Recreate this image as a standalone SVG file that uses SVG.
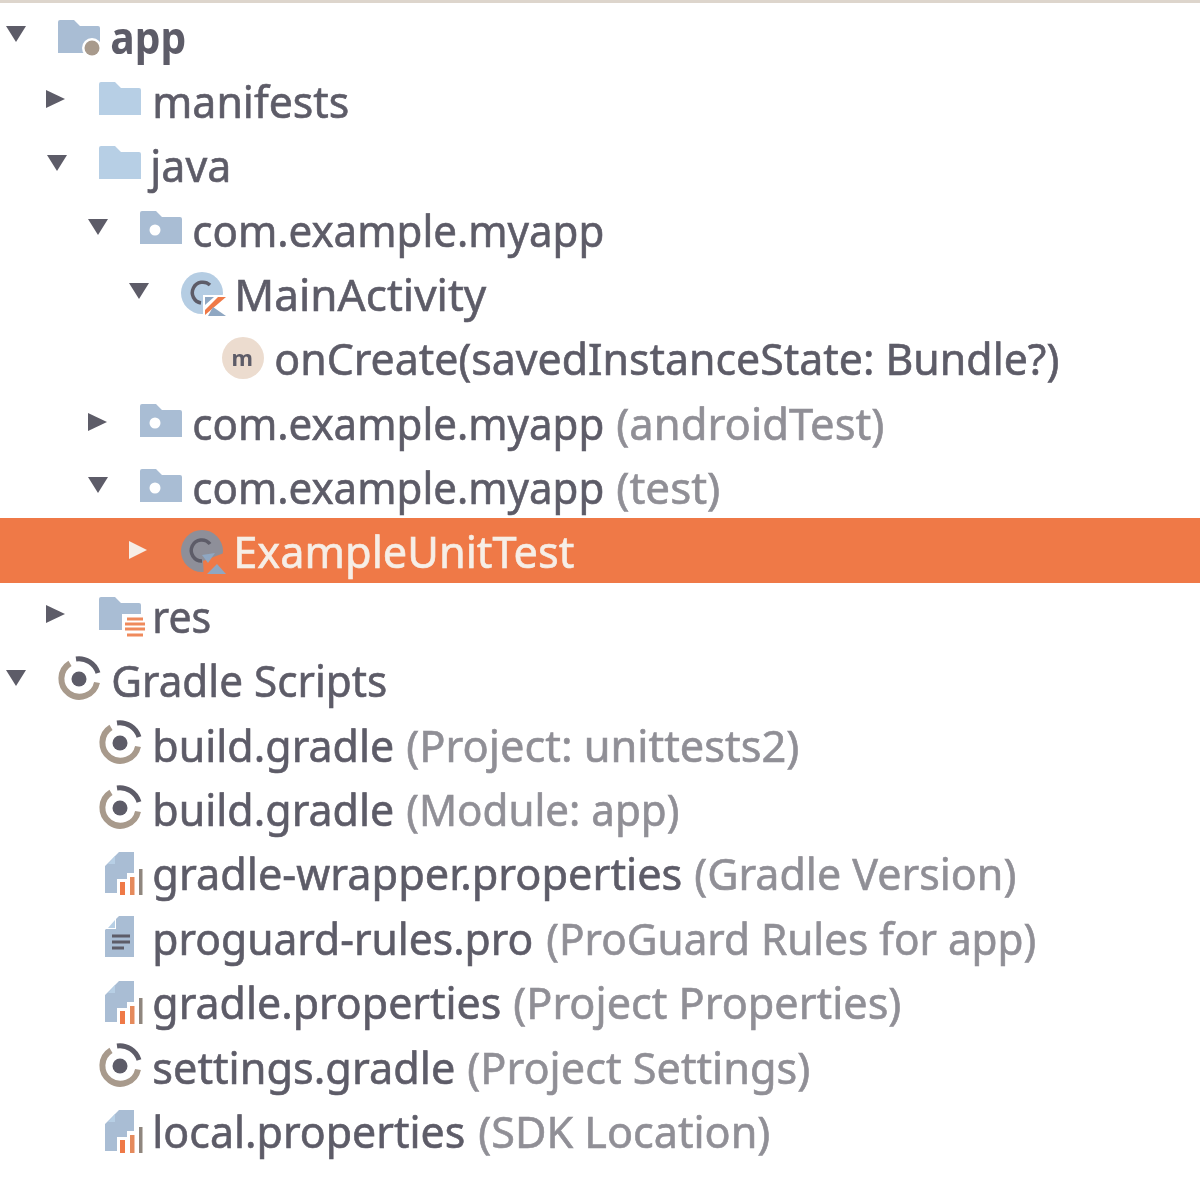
<svg xmlns="http://www.w3.org/2000/svg" xmlns:xlink="http://www.w3.org/1999/xlink" width="1200" height="1183" viewBox="0 0 1200 1183">
<style>
text{font-family:"Noto Sans","Open Sans","DejaVu Sans",sans-serif;font-size:44px;fill:#5d5b67;stroke:#5d5b67;stroke-width:.6px;transform:translate(-.7px,1px)}
.s{fill:#908f96;stroke:#908f96}
.w{fill:#f6eee6;stroke:#f6eee6}
.b{font-weight:700;stroke-width:0}
</style>
<defs>
<filter id="soft" x="0" y="0" width="100%" height="100%"><feGaussianBlur stdDeviation="0.5"/></filter>
<path id="down" d="M0 0H20L10 16Z" fill="#5d5b67"/>
<path id="right" d="M0 0L19 9L0 18Z" fill="#5d5b67"/>
<path id="folder" d="M0 2Q0 0 2 0H16L22 6H40Q42 6 42 8V33H0Z"/>
<g id="gradle" fill="none" stroke-width="6">
<path d="M-9 -15.600A18 18 0 1 0 18 3.500" stroke="#a89a8c"/>
<path d="M-3 -20A20 20 0 0 1 19 -6" stroke="#5d5b67" stroke-width="5"/>
<circle r="7.500" fill="#5d5b67" stroke="none"/>
</g>
<g id="doc">
<path d="M14 0H29V41H0V14Z" fill="#a9bdd4"/>
<path d="M11 1V13H0Z" fill="#fff"/>
<path d="M10 4V12H3Z" fill="#b7cfe5"/>
</g>
<g id="props">
<path d="M14 0H29V21H22V27H12V41H0V14Z" fill="#a9bdd4"/>
<path d="M10 4V12H3Z" fill="#b7cfe5"/>
<rect x="15" y="30" width="5" height="13" fill="#ef7947"/>
<rect x="25" y="25" width="4.500" height="18" fill="#e58a5c"/>
<rect x="34" y="17" width="3.500" height="26" fill="#8f867e"/>
</g>
</defs>
<rect width="1200" height="1183" fill="#fff"/>
<g filter="url(#soft)">
<rect width="1200" height="3" fill="#ddd5cc"/>
<rect id="selection" y="518" width="1200" height="65" fill="#ef7947"/>

<g id="app"><use xlink:href="#down" x="6" y="26"/><use xlink:href="#folder" x="58" y="20" fill="#a9bdd4"/><circle cx="92" cy="48" r="10" fill="#fff"/><circle cx="92" cy="48" r="7.500" fill="#a89a8c"/><text x="111" y="53" textLength="76" lengthAdjust="spacingAndGlyphs" class="b">app</text></g>

<g id="manifests"><use xlink:href="#right" x="46" y="90"/><use xlink:href="#folder" x="99" y="82" fill="#b7cfe5"/><text x="153" y="117" textLength="197" lengthAdjust="spacingAndGlyphs">manifests</text></g>

<g id="java"><use xlink:href="#down" x="47" y="155"/><use xlink:href="#folder" x="99" y="146" fill="#b7cfe5"/><text x="151" y="181" textLength="81" lengthAdjust="spacingAndGlyphs">java</text></g>

<g id="pkg-main"><use xlink:href="#down" x="88" y="219"/><use xlink:href="#folder" x="140" y="211" fill="#a9bdd4"/><circle cx="155" cy="230" r="5.500" fill="#fff"/><text x="193" y="246" textLength="412" lengthAdjust="spacingAndGlyphs">com.example.myapp</text></g>

<g id="main-activity"><use xlink:href="#down" x="129" y="283"/><circle cx="202" cy="293" r="21" fill="#b5cde3"/><path d="M210 285A10.500 10.500 0 1 0 201 303" fill="none" stroke="#5d5b67" stroke-width="3.500"/><rect x="203" y="295" width="25" height="23" fill="#fff"/><path d="M205 297H214L205 305Z" fill="#8fa7c2"/><path d="M205 310L218 297H226L205 315Z" fill="#ef7947"/><path d="M213 307L226 316H208Z" fill="#8fa7c2"/><text x="235" y="310" textLength="252" lengthAdjust="spacingAndGlyphs">MainActivity</text></g>

<g id="on-create"><circle cx="243" cy="358" r="21" fill="#ecdccf"/><text x="243" y="365" text-anchor="middle" style="font-size:22px" class="b">m</text><text x="275" y="374" textLength="785" lengthAdjust="spacingAndGlyphs">onCreate(savedInstanceState: Bundle?)</text></g>

<g id="pkg-android-test"><use xlink:href="#right" x="88" y="413"/><use xlink:href="#folder" x="140" y="404" fill="#a9bdd4"/><circle cx="155" cy="423" r="5.500" fill="#fff"/><text x="193" y="439" textLength="412" lengthAdjust="spacingAndGlyphs">com.example.myapp</text><text x="617" y="439" textLength="268" lengthAdjust="spacingAndGlyphs" class="s">(androidTest)</text></g>

<g id="pkg-test"><use xlink:href="#down" x="88" y="477"/><use xlink:href="#folder" x="140" y="469" fill="#a9bdd4"/><circle cx="155" cy="488" r="5.500" fill="#fff"/><text x="193" y="503" textLength="412" lengthAdjust="spacingAndGlyphs">com.example.myapp</text><text x="617" y="503" textLength="104" lengthAdjust="spacingAndGlyphs" class="s">(test)</text></g>

<g id="example-unit-test"><path d="M129 541L147 550L129 559Z" fill="#f6eee6"/><circle cx="202" cy="551" r="21" fill="#8e8f99"/><path d="M203 561L224 553L230 578H204Z" fill="#ef7947"/><path d="M210 544A10.500 10.500 0 1 0 202 561" fill="none" stroke="#5d5b67" stroke-width="3.500"/><path d="M202 555L215 553L208 563Z" fill="#8fa7c2"/><path d="M207 574L217 564L226 574Z" fill="#8fa7c2"/><text x="234" y="567" textLength="341" lengthAdjust="spacingAndGlyphs" class="w">ExampleUnitTest</text></g>

<g id="res"><use xlink:href="#right" x="46" y="605"/><use xlink:href="#folder" x="99" y="597" fill="#a9bdd4"/><rect x="122" y="614" width="24" height="26" fill="#fff"/><path d="M127 619H143M125 624H145M125 629H145M127 635H143" stroke="#ef8a5c" stroke-width="3" fill="none"/><text x="153" y="632" textLength="59" lengthAdjust="spacingAndGlyphs">res</text></g>

<g id="gradle-scripts"><use xlink:href="#down" x="6" y="670"/><use xlink:href="#gradle" x="79" y="679"/><text x="112" y="696" textLength="276" lengthAdjust="spacingAndGlyphs">Gradle Scripts</text></g>

<g id="build-project"><use xlink:href="#gradle" x="120" y="743"/><text x="153" y="761" textLength="242" lengthAdjust="spacingAndGlyphs">build.gradle</text><text x="407" y="761" textLength="393" lengthAdjust="spacingAndGlyphs" class="s">(Project: unittests2)</text></g>

<g id="build-module"><use xlink:href="#gradle" x="120" y="808"/><text x="153" y="825" textLength="242" lengthAdjust="spacingAndGlyphs">build.gradle</text><text x="407" y="825" textLength="273" lengthAdjust="spacingAndGlyphs" class="s">(Module: app)</text></g>

<g id="gradle-wrapper"><use xlink:href="#props" x="105" y="852"/><text x="153" y="889" textLength="530" lengthAdjust="spacingAndGlyphs">gradle-wrapper.properties</text><text x="695" y="889" textLength="322" lengthAdjust="spacingAndGlyphs" class="s">(Gradle Version)</text></g>

<g id="proguard"><use xlink:href="#doc" x="105" y="916"/><path d="M112 936H130M112 942H130M112 948H124" stroke="#5d5b67" stroke-width="3" fill="none"/><text x="153" y="954" textLength="381" lengthAdjust="spacingAndGlyphs">proguard-rules.pro</text><text x="547" y="954" textLength="490" lengthAdjust="spacingAndGlyphs" class="s">(ProGuard Rules for app)</text></g>

<g id="gradle-properties"><use xlink:href="#props" x="105" y="981"/><text x="153" y="1018" textLength="349" lengthAdjust="spacingAndGlyphs">gradle.properties</text><text x="514" y="1018" textLength="388" lengthAdjust="spacingAndGlyphs" class="s">(Project Properties)</text></g>

<g id="settings"><use xlink:href="#gradle" x="120" y="1066"/><text x="153" y="1083" textLength="303" lengthAdjust="spacingAndGlyphs">settings.gradle</text><text x="468" y="1083" textLength="343" lengthAdjust="spacingAndGlyphs" class="s">(Project Settings)</text></g>

<g id="local-properties"><use xlink:href="#props" x="105" y="1110"/><text x="153" y="1147" textLength="313" lengthAdjust="spacingAndGlyphs">local.properties</text><text x="479" y="1147" textLength="292" lengthAdjust="spacingAndGlyphs" class="s">(SDK Location)</text></g>
</g>
</svg>
